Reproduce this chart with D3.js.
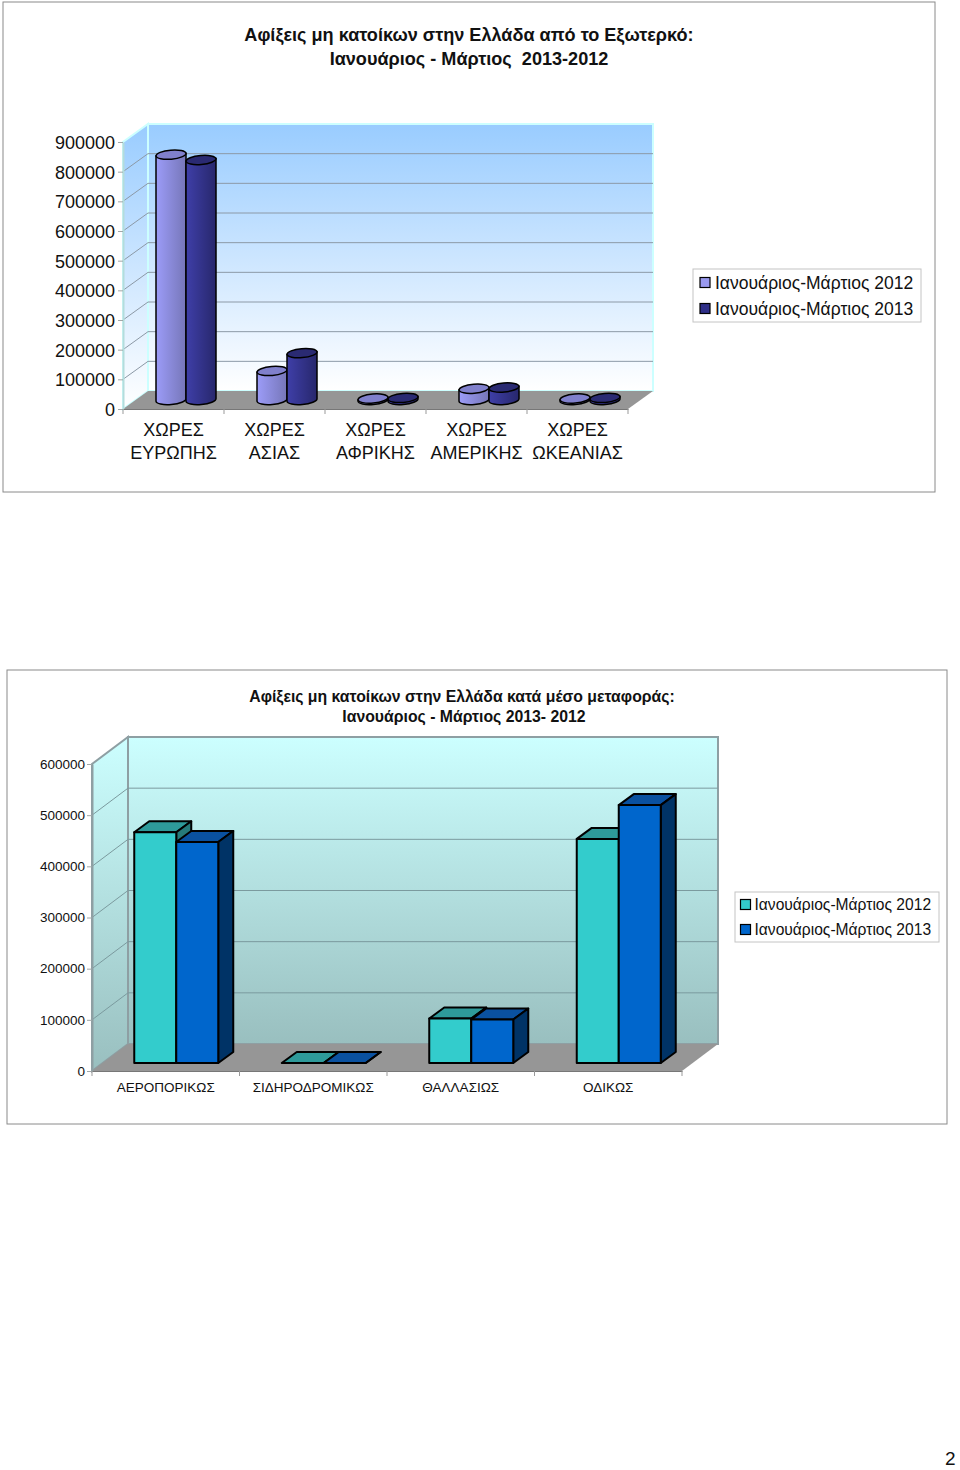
<!DOCTYPE html>
<html>
<head>
<meta charset="utf-8">
<script src="https://cdn.jsdelivr.net/npm/d3@7/dist/d3.min.js"></script>
<style>
  html, body { margin: 0; padding: 0; background: #fff; }
  svg { display: block; }
  text { font-family: "Liberation Sans", Arial, sans-serif; fill: #111; }
</style>
</head>
<body>
<div id="page"></div>
<script>
// Chart 1: arrivals by region of origin
var regionTitle = ['Αφίξεις μη κατοίκων στην Ελλάδα από το Εξωτερκό:', 'Ιανουάριος - Μάρτιος  2013-2012'];
var regions = ['ΧΩΡΕΣ ΕΥΡΩΠΗΣ', 'ΧΩΡΕΣ ΑΣΙΑΣ', 'ΧΩΡΕΣ ΑΦΡΙΚΗΣ', 'ΧΩΡΕΣ ΑΜΕΡΙΚΗΣ', 'ΧΩΡΕΣ ΩΚΕΑΝΙΑΣ'];
var regions2012 = [827000, 98000, 5000, 38000, 5000];
var regions2013 = [809000, 158000, 7000, 42000, 7000];
var regionTicks = [0, 100000, 200000, 300000, 400000, 500000, 600000, 700000, 800000, 900000];

// Chart 2: arrivals by means of transport
var transportTitle = ['Αφίξεις μη κατοίκων στην Ελλάδα κατά μέσο μεταφοράς:', 'Ιανουάριος - Μάρτιος 2013- 2012'];
var transports = ['ΑΕΡΟΠΟΡΙΚΩΣ', 'ΣΙΔΗΡΟΔΡΟΜΙΚΩΣ', 'ΘΑΛΛΑΣΙΩΣ', 'ΟΔΙΚΩΣ'];
var transports2012 = [451000, 0, 87000, 438000];
var transports2013 = [432000, 0, 85000, 504000];
var transportTicks = [0, 100000, 200000, 300000, 400000, 500000, 600000];

var seriesNames = ['Ιανουάριος-Μάρτιος 2012', 'Ιανουάριος-Μάρτιος 2013'];

var svg = d3.select('#page').append('svg').attr('width', 960).attr('height', 1470);
var defs = svg.append('defs');

function vGradient(id, top, bottom) {
  var g = defs.append('linearGradient').attr('id', id)
    .attr('x1', 0).attr('y1', 0).attr('x2', 0).attr('y2', 1);
  g.append('stop').attr('offset', 0).attr('stop-color', top);
  g.append('stop').attr('offset', 1).attr('stop-color', bottom);
}
function hGradient(id, left, right) {
  var g = defs.append('linearGradient').attr('id', id)
    .attr('x1', 0).attr('y1', 0).attr('x2', 1).attr('y2', 0);
  g.append('stop').attr('offset', 0).attr('stop-color', left);
  g.append('stop').attr('offset', 1).attr('stop-color', right);
}
vGradient('wall1', '#99ccff', '#ffffff');
vGradient('wall2', '#ccffff', '#99bfbf');
hGradient('cyl2012', '#9c9cf8', '#7676b8');
hGradient('cyl2013', '#3f3fa8', '#27276c');

// frame + title + the 3d box with its axes, returns the scales
function drawBox(o) {
  var g = svg.append('g');
  g.append('rect').attr('x', o.frame[0]).attr('y', o.frame[1])
    .attr('width', o.frame[2] - o.frame[0]).attr('height', o.frame[3] - o.frame[1])
    .attr('fill', '#fff').attr('stroke', '#8a8a8a').attr('stroke-width', 1);

  o.title.forEach(function (t, i) {
    g.append('text').attr('x', o.titleX[i]).attr('y', o.titleY[i])
      .attr('text-anchor', 'middle').attr('font-weight', 'bold')
      .attr('font-size', o.titleSize).style('white-space', 'pre').text(t);
  });

  var x = d3.scaleBand().domain(o.categories).range([o.x0, o.x1]);
  var y = d3.scaleLinear().domain([0, d3.max(o.ticks)]).range([o.y0, o.yTop]);
  var dx = o.depth[0], dy = o.depth[1];

  // side wall, back wall, floor
  g.append('path')
    .attr('d', d3.line()([[o.x0, o.y0], [o.x0, o.yTop], [o.x0 + dx, o.yTop + dy], [o.x0 + dx, o.y0 + dy]]) + 'Z')
    .attr('fill', 'url(#' + o.wall + ')').attr('stroke', o.wallStroke).attr('stroke-width', o.wallWidth);
  g.append('rect').attr('x', o.x0 + dx).attr('y', o.yTop + dy)
    .attr('width', o.x1 - o.x0).attr('height', o.y0 - o.yTop)
    .attr('fill', 'url(#' + o.wall + ')').attr('stroke', o.wallStroke).attr('stroke-width', o.wallWidth);
  g.append('path')
    .attr('d', d3.line()([[o.x0, o.y0], [o.x1, o.y0], [o.x1 + dx, o.y0 + dy], [o.x0 + dx, o.y0 + dy]]) + 'Z')
    .attr('fill', '#969696');

  // gridlines on both walls
  var grid = o.ticks.filter(function (d) { return d > 0 && d < d3.max(o.ticks); });
  g.selectAll('.grid-side').data(grid).enter().append('line')
    .attr('x1', o.x0).attr('y1', y).attr('x2', o.x0 + dx).attr('y2', function (d) { return y(d) + dy; })
    .attr('stroke', o.gridColor);
  g.selectAll('.grid-back').data(grid).enter().append('line')
    .attr('x1', o.x0 + dx).attr('y1', function (d) { return y(d) + dy; })
    .attr('x2', o.x1 + dx).attr('y2', function (d) { return y(d) + dy; })
    .attr('stroke', o.gridColor);

  // value axis
  var yAxis = g.append('g').attr('transform', 'translate(' + o.x0 + ',0)')
    .call(d3.axisLeft(y).tickValues(o.ticks).tickFormat(d3.format('d')).tickSize(5).tickSizeOuter(0).tickPadding(o.tickPad));
  yAxis.selectAll('text').attr('font-size', o.tickSize).attr('fill', '#111').attr('y', o.tickShift);
  yAxis.selectAll('line').attr('stroke', '#a0a8a8');
  yAxis.select('.domain').attr('stroke', o.axisColor).attr('stroke-width', o.wallWidth);

  // category axis, ticks sit between the categories
  var xAxis = g.append('g').attr('transform', 'translate(0,' + o.y0 + ')')
    .call(d3.axisBottom(x).tickSize(0).tickPadding(o.labelPad));
  xAxis.select('.domain').attr('stroke', '#777');
  xAxis.selectAll('text').attr('font-size', o.labelSize).attr('fill', '#111').text(null)
    .each(function (d) {
      var lines = o.wrap ? d.split(' ') : [d];
      d3.select(this).selectAll('tspan').data(lines).enter().append('tspan')
        .attr('x', 0).attr('dy', function (l, i) { return i ? o.labelLine : '0.71em'; })
        .text(function (l) { return l; });
    });
  g.selectAll('.edge').data(o.categories.concat('end')).enter().append('line')
    .attr('x1', function (d, i) { return o.x0 + i * x.bandwidth(); })
    .attr('x2', function (d, i) { return o.x0 + i * x.bandwidth(); })
    .attr('y1', o.y0).attr('y2', o.y0 + 5).attr('stroke', '#999');

  return { x: x, y: y };
}

function drawLegend(o) {
  var g = svg.append('g');
  g.append('rect').attr('x', o.box[0]).attr('y', o.box[1])
    .attr('width', o.box[2] - o.box[0]).attr('height', o.box[3] - o.box[1])
    .attr('fill', '#fff').attr('stroke', '#c4c4c4');
  var row = g.selectAll('.row').data(seriesNames).enter().append('g')
    .attr('transform', function (d, i) { return 'translate(' + (o.box[0] + o.pad) + ',' + o.rows[i] + ')'; });
  row.append('rect').attr('x', 0).attr('y', -5.5).attr('width', 10).attr('height', 10)
    .attr('fill', function (d, i) { return o.colors[i]; })
    .attr('stroke', '#000').attr('stroke-width', 1.2);
  row.append('text').attr('x', o.textX).attr('dy', '0.35em')
    .attr('font-size', o.size).text(function (d) { return d; });
}

// ---------- chart 1, cylinders ----------
var c1 = {
  frame: [3, 2, 935, 492], title: regionTitle, titleX: [469, 469], titleY: [41, 65], titleSize: 18.1,
  categories: regions, ticks: regionTicks,
  x0: 123, x1: 628, y0: 409, yTop: 142, depth: [25, -18],
  wall: 'wall1', wallStroke: '#ccffff', wallWidth: 2, gridColor: '#8c99a6', axisColor: '#b4dcdc',
  tickSize: 18, tickPad: 3, tickShift: 0.7, labelSize: 18, labelPad: 14, labelLine: 23, wrap: true
};
var s1 = drawBox(c1);
var inner1 = d3.scaleBand().domain([0, 1]).range([-30, 30]);
var ry = 4.5;
var tilt = 5; // degrees, the discs lean up to the right
var rise = Math.sin(tilt * Math.PI / 180) * 15;
var base1 = c1.y0 + c1.depth[1] / 2;

[regions2012, regions2013].forEach(function (values, si) {
  var id = si === 0 ? 'cyl2012' : 'cyl2013';
  var topColor = si === 0 ? '#8080cc' : '#2a2a72';
  var cyl = svg.append('g').selectAll('g').data(values).enter().append('g')
    .attr('stroke', '#000').attr('stroke-width', 1.5);
  function left(d, i) {
    return s1.x(regions[i]) + s1.x.bandwidth() / 2 + c1.depth[0] / 2 + inner1(si);
  }
  var w = inner1.bandwidth();
  cyl.append('path')
    .attr('fill', 'url(#' + id + ')')
    .attr('d', function (d, i) {
      var l = left(d, i);
      var top = base1 - (c1.y0 - s1.y(d));
      return 'M' + l + ',' + (top + rise) + 'L' + l + ',' + (base1 + rise) +
        'A' + (w / 2) + ',' + ry + ' ' + (-tilt) + ' 0 0 ' + (l + w) + ',' + (base1 - rise) +
        'L' + (l + w) + ',' + (top - rise) + 'Z';
    });
  cyl.append('ellipse')
    .attr('cx', function (d, i) { return left(d, i) + w / 2; })
    .attr('cy', function (d) { return base1 - (c1.y0 - s1.y(d)); })
    .attr('rx', w / 2).attr('ry', ry)
    .attr('fill', topColor)
    .attr('transform', function (d, i) {
      return 'rotate(' + (-tilt) + ' ' + (left(d, i) + w / 2) + ' ' + (base1 - (c1.y0 - s1.y(d))) + ')';
    });
});

drawLegend({
  box: [693, 269, 921, 322], pad: 7, rows: [283, 309], colors: ['#9999ee', '#2f2f88'],
  textX: 15, size: 17.5
});

// ---------- chart 2, boxes ----------
var c2 = {
  frame: [7, 670, 947, 1124], title: transportTitle, titleX: [462, 464], titleY: [702, 722], titleSize: 15.8,
  categories: transports, ticks: transportTicks,
  x0: 92, x1: 682, y0: 1071, yTop: 764, depth: [36, -27],
  wall: 'wall2', wallStroke: '#8e9fa3', wallWidth: 2, gridColor: '#7b9a9e', axisColor: '#8e9fa3',
  tickSize: 13.5, tickPad: 2, tickShift: 0, labelSize: 13.5, labelPad: 11, labelLine: 16, wrap: false
};
var s2 = drawBox(c2);
var bar = { dx: 15, dy: -11 };
var inner2 = d3.scaleBand().domain([0, 1]).range([-42, 42]);
var base2 = c2.y0 + (c2.depth[1] - bar.dy) / 2;
var bar2Colors = [
  { front: '#33cccc', top: '#2e9a9a', side: '#267a7a' },
  { front: '#0066cc', top: '#0a51a0', side: '#003366' }
];

[transports2012, transports2013].forEach(function (values, si) {
  var col = bar2Colors[si];
  var w = inner2.bandwidth();
  var b = svg.append('g').selectAll('g').data(values).enter().append('g')
    .attr('stroke', '#000').attr('stroke-width', 2).attr('stroke-linejoin', 'round');
  function left(d, i) {
    return s2.x(transports[i]) + s2.x.bandwidth() / 2 + (c2.depth[0] - bar.dx) / 2 + inner2(si);
  }
  function top(d) { return base2 - (c2.y0 - s2.y(d)); }
  b.append('path').attr('fill', col.top).attr('d', function (d, i) {
    var l = left(d, i), t = top(d);
    return d3.line()([[l, t], [l + bar.dx, t + bar.dy], [l + w + bar.dx, t + bar.dy], [l + w, t]]) + 'Z';
  });
  b.append('path').attr('fill', col.side).attr('d', function (d, i) {
    var l = left(d, i), t = top(d);
    return d3.line()([[l + w, t], [l + w + bar.dx, t + bar.dy], [l + w + bar.dx, base2 + bar.dy], [l + w, base2]]) + 'Z';
  });
  b.append('rect').attr('fill', col.front)
    .attr('x', left)
    .attr('y', top)
    .attr('width', w)
    .attr('height', function (d) { return base2 - top(d); });
});

drawLegend({
  box: [735, 892, 939, 942], pad: 5.5, rows: [905, 930], colors: ['#33cccc', '#0066cc'],
  textX: 14, size: 15.6
});

// page number
svg.append('text').attr('x', 945).attr('y', 1465).attr('font-size', 19).text('2');
</script>
</body>
</html>
